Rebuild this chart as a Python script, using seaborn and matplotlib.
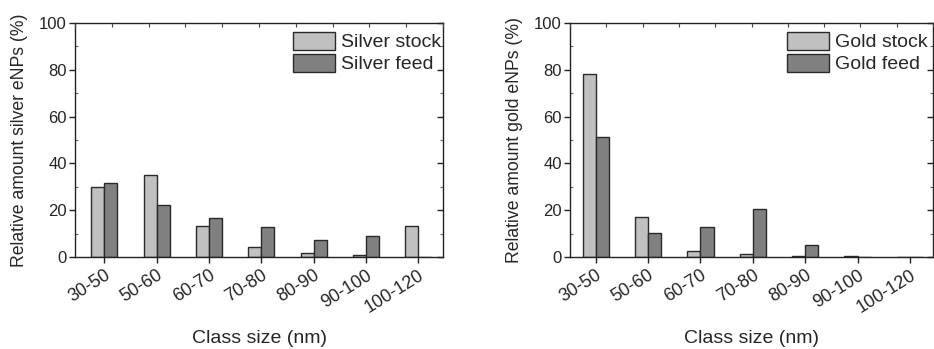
import matplotlib
matplotlib.use("Agg")
import matplotlib.pyplot as plt
import matplotlib.lines as mlines
import seaborn as sns
import pandas as pd
from matplotlib.ticker import MultipleLocator

categories = ["30-50", "50-60", "60-70", "70-80", "80-90", "90-100", "100-120"]
silver_stock = [30.0, 35.0, 13.1, 4.4, 1.7, 0.7, 13.4]
silver_feed = [31.5, 22.1, 16.5, 12.8, 7.3, 9.1, 0.0]
gold_stock = [78.0, 17.0, 2.6, 1.1, 0.4, 0.3, 0.1]
gold_feed = [51.3, 10.1, 12.7, 20.4, 5.0, 0.0, 0.0]

sns.set_theme(style="white")
plt.rcParams['font.family'] = ['Liberation Sans', 'DejaVu Sans']

def long(stock, feed, s_name, f_name):
    return pd.DataFrame({
        "cat": categories * 2,
        "val": list(stock) + list(feed),
        "series": [s_name] * len(categories) + [f_name] * len(categories),
    })

W, H = 934, 349
fig = plt.figure(figsize=(W / 100, H / 100), dpi=100)
ax1 = fig.add_axes([75 / W, (H - 257) / H, (443 - 75) / W, (257 - 23) / H])
ax2 = fig.add_axes([570 / W, (H - 257) / H, (933 - 570) / W, (257 - 23) / H])

panels = [
    (ax1, long(silver_stock, silver_feed, "Silver stock", "Silver feed"),
     "Relative amount silver eNPs (%)", (-0.56, 6.47), 1.016),
    (ax2, long(gold_stock, gold_feed, "Gold stock", "Gold feed"),
     "Relative amount gold eNPs (%)", (-0.49, 6.44), 1.007),
]

for ax, df, ylabel, xlim, lx in panels:
    sns.barplot(data=df, x="cat", y="val", hue="series", ax=ax,
                palette=["#c0c0c0", "#808080"], width=0.5, gap=0,
                edgecolor="#2a2a2a", linewidth=1.0, saturation=1)
    ax.set_xlim(*xlim)
    ax.set_ylim(0, 100)
    ax.yaxis.set_major_locator(MultipleLocator(20))
    ax.yaxis.set_minor_locator(MultipleLocator(10))
    ax.set_ylabel(ylabel, fontsize=12.7, labelpad=8)
    ax.set_xlabel("Class size (nm)", fontsize=14, labelpad=10)
    ax.set_xticks(range(len(categories)))
    ax.set_xticklabels(categories, rotation=32, ha="right",
                       rotation_mode="anchor", fontsize=13)
    ax.tick_params(axis="x", which="major", bottom=True, direction="out",
                   length=4, width=1, color="#222222", pad=3)
    ax.tick_params(axis="y", which="major", left=True, right=True,
                   direction="out", length=4, width=1, color="#222222",
                   labelsize=12, pad=2)
    ax.tick_params(axis="y", which="minor", left=True, right=True,
                   direction="in", length=2.5, width=0.8, color="#666666")
    for s in ax.spines.values():
        s.set_visible(True)
        s.set_color("#222222")
        s.set_linewidth(1.0)
    for t in ax.yaxis.get_major_ticks():
        t.tick2line.set_marker(mlines.TICKLEFT)
    top = ax.twiny()
    top.set_xlim(0, 1)
    top.set_xticks([i / 10 for i in range(11)])
    top.tick_params(axis="x", top=True, direction="in", length=3,
                    width=0.8, color="#444444", labeltop=False)
    for s in top.spines.values():
        s.set_visible(False)
    ax.legend(loc="upper right", bbox_to_anchor=(lx, 0.996),
              borderaxespad=0, frameon=False, fontsize=14,
              handlelength=2.15, handleheight=1.05, handletextpad=0.3,
              labelspacing=0.12, title=None)

fig.savefig("out.png", dpi=100)
